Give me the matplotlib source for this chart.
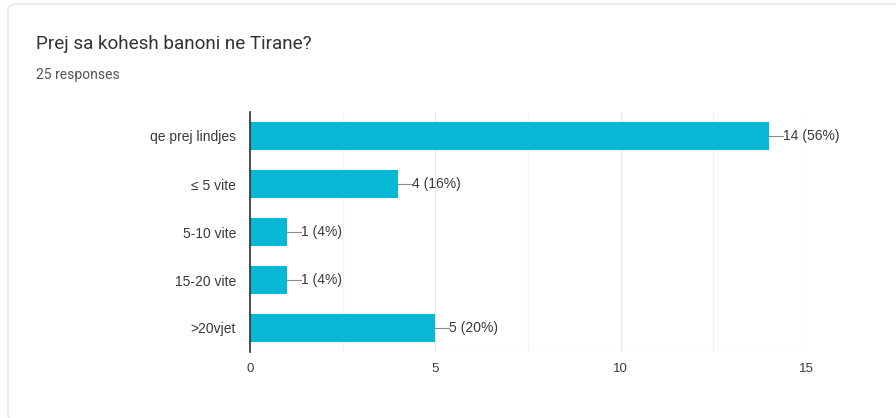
import numpy as np
import matplotlib.pyplot as plt
from matplotlib.patches import FancyBboxPatch

# survey answers
categories = ["qe prej lindjes", "≤ 5 vite", "5-10 vite", "15-20 vite", ">20vjet"]
counts = [14, 4, 1, 1, 5]
total = 25
xticks = [0, 5, 10, 15]

W, H = 896, 418
bar_color = "#06B8D3"
text_color = "#3A3A3A"

plt.rcParams["font.family"] = ["Liberation Sans", "DejaVu Sans"]

fig = plt.figure(figsize=(W / 100, H / 100), dpi=100)
fig.patch.set_facecolor("white")

# card outline, kept behind the axes
card = FancyBboxPatch((8 / W, 1 - 420 / H), 900 / W, 416 / H,
                      boxstyle="round,pad=0,rounding_size=0.012",
                      transform=fig.transFigure, facecolor="none",
                      edgecolor="#E2E2E2", linewidth=1.0, zorder=-1)
fig.patches.append(card)

fig.text(36 / W, 1 - 44 / H, "Prej sa kohesh banoni ne Tirane?", fontsize=13.6,
         color="#333333", va="center", ha="left", family=["Roboto", "DejaVu Sans"])
fig.text(36 / W, 1 - 75 / H, "%d responses" % total, fontsize=10,
         color="#555555", va="center", ha="left", family=["Roboto", "DejaVu Sans"])

ax = fig.add_axes([250 / W, 1 - 352 / H, 556 / W, 240 / H])
ax.patch.set_alpha(0)
y = np.arange(len(categories))
ax.barh(y, counts, height=0.59, color=bar_color, zorder=3)

ax.set_xlim(0, 15)
ax.set_ylim(len(categories) - 0.5, -0.5)
ax.set_yticks(y)
ax.set_yticklabels(categories)
ax.set_xticks(xticks)
ax.set_xticks([2.5, 7.5, 12.5], minor=True)
ax.tick_params(axis="both", which="both", length=0, colors=text_color)
ax.tick_params(axis="y", labelsize=10, pad=10)
ax.tick_params(axis="x", labelsize=9.5, pad=8)
ax.grid(axis="x", which="major", color="#E6E6E6", linewidth=0.9, zorder=0)
ax.grid(axis="x", which="minor", color="#F2F2F2", linewidth=0.9, zorder=0)
ax.axhline(len(categories) - 0.5, color="#E6E6E6", linewidth=0.9, zorder=0)
for side in ["top", "right", "bottom"]:
    ax.spines[side].set_visible(False)
ax.spines["left"].set_color("#333333")
ax.spines["left"].set_linewidth(1.2)
ax.spines["left"].set_zorder(4)

# value labels with short leader lines
for yi, c in zip(y, counts):
    ax.plot([c, c + 0.38], [yi, yi], color="#888888", linewidth=0.8, zorder=3)
    ax.text(c + 0.38, yi, "%d (%d%%)" % (c, round(100 * c / total)),
            va="center", ha="left", fontsize=10, color=text_color)

fig.savefig("out.png", dpi=100)
